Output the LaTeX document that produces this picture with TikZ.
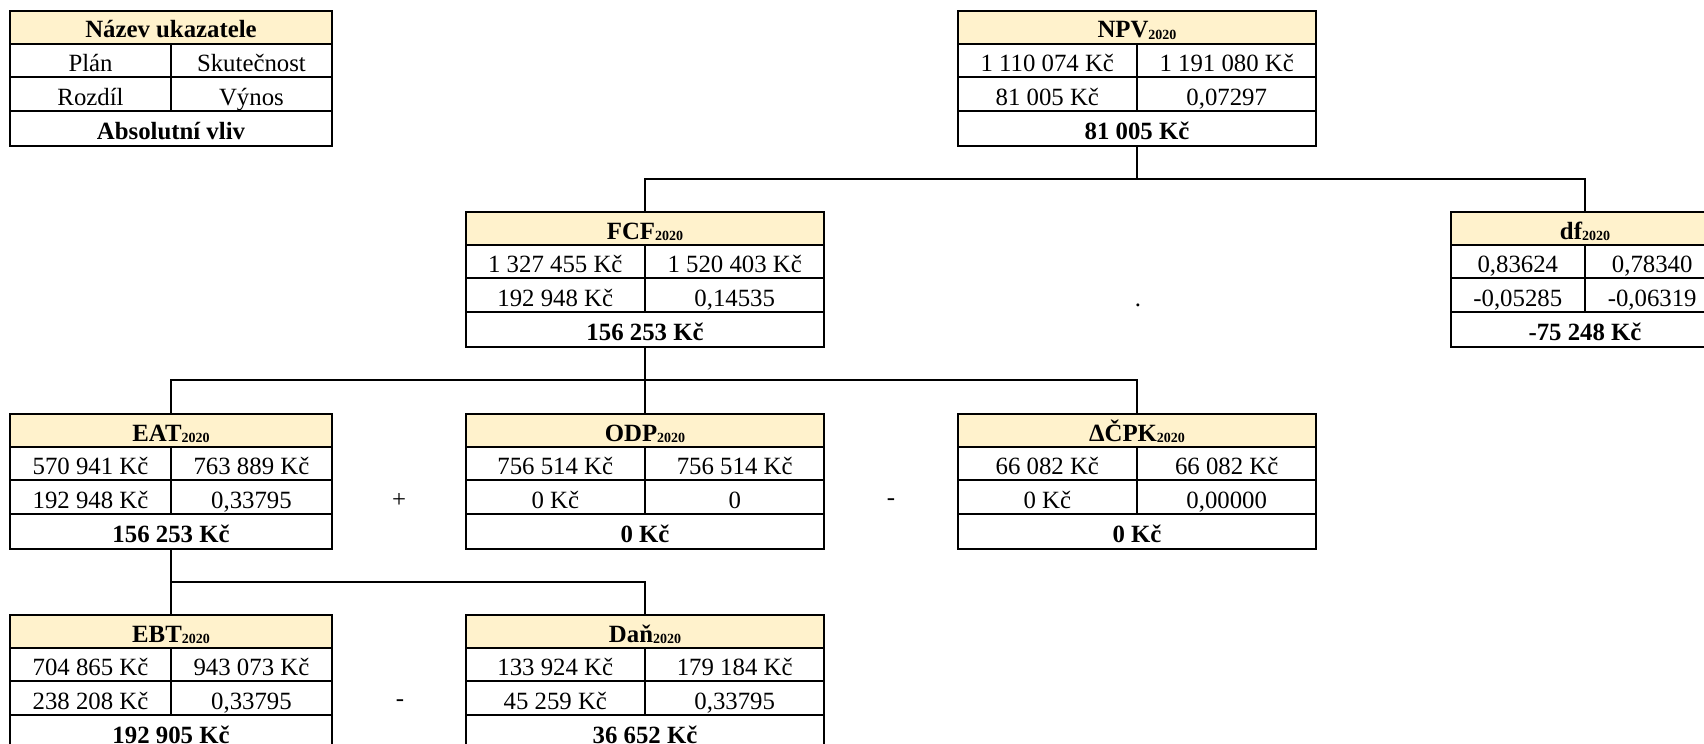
\documentclass[tikz,border=0pt]{standalone}
\usepackage{fontspec}
\setmainfont{Liberation Serif}
\usepackage{xcolor}
\usepackage{tikz}
\usetikzlibrary{calc, positioning}

\definecolor{zlutahlav}{HTML}{FFF2CC}

% maly rok v hlavicce
\newcommand{\rok}[1]{\raisebox{-0.6pt}{\fontsize{7}{8}\selectfont #1}}

% jedna tabulka ukazatele: jmeno, umisteni, nazev, plan, skutecnost, rozdil, vynos, vliv
\newcommand{\ukazatel}[8]{%
  \node[tabbox, #2] (#1) {};
  \fill[zlutahlav] (#1.north west) rectangle ([yshift=-16.5pt]#1.north east);
  \draw[mrizka] ([yshift=-16.5pt]#1.north west) -- ([yshift=-16.5pt]#1.north east)
    ([yshift=-33pt]#1.north west) -- ([yshift=-33pt]#1.north east)
    ([yshift=-50pt]#1.north west) -- ([yshift=-50pt]#1.north east)
    ([yshift=-16.5pt]#1.north) -- ([yshift=-50pt]#1.north);
  \draw[ramecek] (#1.north west) rectangle (#1.south east);
  \node[tucne] (#1-t) at ([yshift=-10.5pt]#1.north) {#3};
  \node[bunka] (#1-a) at ($(#1.north west)!0.5!(#1.north)+(0,-27pt)$) {#4};
  \node[bunka] (#1-b) at ($(#1.north)!0.5!(#1.north east)+(0,-27pt)$) {#5};
  \node[bunka] (#1-c) at ($(#1.north west)!0.5!(#1.north)+(0,-44pt)$) {#6};
  \node[bunka] (#1-d) at ($(#1.north)!0.5!(#1.north east)+(0,-44pt)$) {#7};
  \node[tucne] (#1-e) at ([yshift=-61pt]#1.north) {#8};
}

\begin{document}
\begin{tikzpicture}[
    x=0.5pt, y=-0.5pt,
    tabbox/.style={rectangle, inner sep=0pt, minimum height=67pt, anchor=north},
    uzka/.style={minimum width=160.5pt},
    siroka/.style={minimum width=179pt},
    mrizka/.style={line width=0.8pt, black},
    ramecek/.style={line width=1pt, black},
    bunka/.style={inner sep=0pt, text height=8.5pt, text depth=2.5pt, font=\fontsize{12.4}{14}\selectfont},
    tucne/.style={inner sep=0pt, text height=8.5pt, text depth=2.5pt, font=\fontsize{12.4}{14}\selectfont\bfseries},
    operator/.style={inner sep=0pt, font=\fontsize{12.4}{14}\selectfont},
    spoj/.style={line width=1pt, black},
]

\useasboundingbox (0,0) rectangle (1704,744);
\fill[white] (0,0) rectangle (1704,744);
\clip (0,0) rectangle (1704,744);

% legenda a horni uroven
\ukazatel{legenda}{uzka, at={(171,11)}}{Název ukazatele}{Plán}{Skutečnost}{Rozdíl}{Výnos}{Absolutní vliv}
\ukazatel{npv}{siroka, at={(1137,11)}}{NPV\rok{2020}}{1 110 074 Kč}{1 191 080 Kč}{81 005 Kč}{0,07297}{81 005 Kč}

% druha uroven
\ukazatel{fcf}{siroka, at={(645,212)}}{FCF\rok{2020}}{1 327 455 Kč}{1 520 403 Kč}{192 948 Kč}{0,14535}{156 253 Kč}
\ukazatel{df}{minimum width=134pt, at={(1585,212)}}{df\rok{2020}}{0,83624}{0,78340}{-0,05285}{-0,06319}{-75 248 Kč}
\node[operator] (tecka) at (1138,305) {.};

% treti uroven
\ukazatel{eat}{uzka, at={(171,414)}}{EAT\rok{2020}}{570 941 Kč}{763 889 Kč}{192 948 Kč}{0,33795}{156 253 Kč}
\ukazatel{odp}{siroka, at={(645,414)}}{ODP\rok{2020}}{756 514 Kč}{756 514 Kč}{0 Kč}{0}{0 Kč}
\ukazatel{cpk}{siroka, at={(1137,414)}}{ΔČPK\rok{2020}}{66 082 Kč}{66 082 Kč}{0 Kč}{0,00000}{0 Kč}
\node[operator] (plus) at (399,500) {+};
\node[operator] (minus1) at (891,502) {-};

% ctvrta uroven
\ukazatel{ebt}{uzka, at={(171,615)}}{EBT\rok{2020}}{704 865 Kč}{943 073 Kč}{238 208 Kč}{0,33795}{192 905 Kč}
\ukazatel{dan}{siroka, at={(645,615)}}{Daň\rok{2020}}{133 924 Kč}{179 184 Kč}{45 259 Kč}{0,33795}{36 652 Kč}
\node[operator] (minus2) at (400,703) {-};

% spojnice
\draw[spoj] (npv.south) -- ++(0,33) -| (fcf.north);
\draw[spoj] (npv.south) -- ++(0,33) -| (df.north);
\draw[spoj] (fcf.south) -- ++(0,33) -| (eat.north);
\draw[spoj] (fcf.south) -- (odp.north);
\draw[spoj] (fcf.south) -- ++(0,33) -| (cpk.north);
\draw[spoj] (eat.south) -- ++(0,33) -| (ebt.north);
\draw[spoj] (eat.south) -- ++(0,33) -| (dan.north);

\end{tikzpicture}
\end{document}
